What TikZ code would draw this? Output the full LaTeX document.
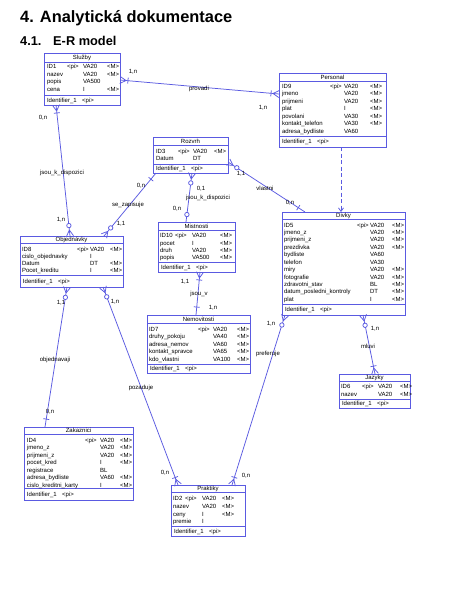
\documentclass[tikz,border=0pt]{standalone}
\usepackage{fontspec}
\setmainfont{Liberation Sans}
\usetikzlibrary{calc,fit,arrows.meta}
\definecolor{pdblue}{RGB}{90,90,225}
\newcounter{tn}
\newcommand\mktx[3]{\if\relax\detokenize{#3}\relax\else\stepcounter{tn}\node[atxt] (t\arabic{tn}) at (#1,#2) {#3};\fi}
\newcommand\mkattr[5]{\mktx{\cA}{#1}{#2}\mktx{\cB}{#1}{#3}\mktx{\cC}{#1}{#4}\mktx{\cD}{#1}{#5}}
\newcommand\mkent[8]{%
 \node[ebox, fit={(#2,#3) (#4,#5)}] (#1) {};
 \draw[eline] (#2,#7) -- (#4,#7);
 \draw[eline] (#2,#8) -- (#4,#8);
 \node[atxt,anchor=base] (#1-title) at ({(#2+#4)/2},{(#3+#7)/2+2}) {#6};
 \node[atxt] (#1-id) at ({#2+3},{(#8+#5)/2+2}) {Identifier\_1\hspace{5.5pt}<pi>};
}
\newcommand\ecrow[2]{\draw[eline] ($(#1)!6pt!(#2)$) -- ($(#1)!3.5pt!90:(#2)$); \draw[eline] ($(#1)!6pt!(#2)$) -- ($(#1)!3.5pt!-90:(#2)$);}
\newcommand\ebar[2]{\draw[eline] ($(#1)!8pt!(#2)!3pt!90:(#2)$) -- ($(#1)!8pt!(#2)!3pt!-90:(#2)$);}
\newcommand\ecircd[3]{\draw[eline,fill=white] ($(#1)!#3!(#2)$) circle[radius=2.2pt];}
\newcommand\ecirc[2]{\ecircd{#1}{#2}{10.5pt}}
\tikzset{
 eline/.style={draw=pdblue, line width=0.75pt},
 ebox/.style={rectangle, draw=pdblue, fill=white, line width=0.75pt, inner sep=0pt, outer sep=0pt},
 atxt/.style={anchor=base west, inner sep=0pt, outer sep=0pt, text=black, font=\fontsize{6}{7}\selectfont},
 lbl/.style={atxt, anchor=base},
}
\begin{document}
\begin{tikzpicture}[x=1pt,y=-1pt]
\fill[white] (0,0) rectangle (469,590);
\useasboundingbox (0,0) rectangle (469,590);

\node[anchor=base west, inner sep=0pt, font=\bfseries\fontsize{16.4}{19}\selectfont] (h1) at (20,22) {4. Analytická dokumentace};
\node[anchor=base west, inner sep=0pt, font=\bfseries\fontsize{12.8}{15}\selectfont] (h2) at (20,45) {4.1.};
\node[anchor=base west, inner sep=0pt, font=\bfseries\fontsize{12.8}{15}\selectfont] (h3) at (53,45) {E-R model};

% Sluzby
\mkent{sluzby}{44}{53}{120}{105}{Služby}{62}{95}
\def\cA{47}\def\cB{67}\def\cC{83}\def\cD{107}
\mkattr{68.7}{ID1}{<pi>}{VA20}{<M>}
\mkattr{76.2}{nazev}{}{VA20}{<M>}
\mkattr{83.7}{popis}{}{VA500}{}
\mkattr{91.2}{cena}{}{I}{<M>}

% Personal
\mkent{personal}{279}{73}{386}{147}{Personal}{81}{136}
\def\cA{282}\def\cB{330}\def\cC{344}\def\cD{370}
\mkattr{88}{ID9}{<pi>}{VA20}{<M>}
\mkattr{95.5}{jmeno}{}{VA20}{<M>}
\mkattr{103}{prijmeni}{}{VA20}{<M>}
\mkattr{110.5}{plat}{}{I}{<M>}
\mkattr{118}{povolani}{}{VA30}{<M>}
\mkattr{125.5}{kontakt\_telefon}{}{VA30}{<M>}
\mkattr{133}{adresa\_bydliste}{}{VA60}{}

% Rozvrh
\mkent{rozvrh}{153}{137}{228}{173}{Rozvrh}{145}{164}
\def\cA{156}\def\cB{178}\def\cC{193}\def\cD{214}
\mkattr{153}{ID3}{<pi>}{VA20}{<M>}
\mkattr{160}{Datum}{}{DT}{}

% Objednavky
\mkent{objednavky}{20}{236}{123}{287}{Objednávky}{243}{275}
\def\cA{22}\def\cB{77}\def\cC{90}\def\cD{110}
\mkattr{251}{ID8}{<pi>}{VA20}{<M>}
\mkattr{258.2}{cislo\_objednavky}{}{I}{}
\mkattr{265.4}{Datum}{}{DT}{<M>}
\mkattr{272.6}{Pocet\_kreditu}{}{I}{<M>}

% Mistnosti
\mkent{mistnosti}{158}{222}{235}{272}{Mistnosti}{230}{262}
\def\cA{160}\def\cB{175}\def\cC{192}\def\cD{220}
\mkattr{237.7}{ID10}{<pi>}{VA20}{<M>}
\mkattr{245}{pocet}{}{I}{<M>}
\mkattr{252.3}{druh}{}{VA20}{<M>}
\mkattr{259.6}{popis}{}{VA500}{<M>}

% Nemovitosti
\mkent{nemovitosti}{147}{315}{250}{373}{Nemovitosti}{323}{364}
\def\cA{149}\def\cB{198}\def\cC{213}\def\cD{237}
\mkattr{331}{ID7}{<pi>}{VA20}{<M>}
\mkattr{338.5}{druhy\_pokoju}{}{VA40}{<M>}
\mkattr{346}{adresa\_nemov}{}{VA60}{<M>}
\mkattr{353.5}{kontakt\_spravce}{}{VA65}{<M>}
\mkattr{361}{kdo\_vlastni}{}{VA100}{<M>}

% Divky
\mkent{divky}{282}{212}{405}{315}{Divky}{219.5}{304}
\def\cA{284}\def\cB{357}\def\cC{370}\def\cD{392}
\mkattr{227}{ID5}{<pi>}{VA20}{<M>}
\mkattr{234.4}{jmeno\_z}{}{VA20}{<M>}
\mkattr{241.9}{prijmeni\_z}{}{VA20}{<M>}
\mkattr{249.3}{prezdivka}{}{VA20}{<M>}
\mkattr{256.7}{bydliste}{}{VA60}{}
\mkattr{264.2}{telefon}{}{VA30}{}
\mkattr{271.6}{miry}{}{VA20}{<M>}
\mkattr{279}{fotografie}{}{VA20}{<M>}
\mkattr{286.4}{zdravotni\_stav}{}{BL}{<M>}
\mkattr{293.9}{datum\_posledni\_kontroly}{}{DT}{<M>}
\mkattr{301.3}{plat}{}{I}{<M>}

% Jazyky
\mkent{jazyky}{339}{374}{410}{408}{Jazyky}{381}{399.5}
\def\cA{341}\def\cB{362}\def\cC{378}\def\cD{400}
\mkattr{388.5}{ID6}{<pi>}{VA20}{<M>}
\mkattr{396}{nazev}{}{VA20}{<M>}

% Zakaznici
\mkent{zakaznici}{24}{427}{133}{500}{Zakaznici}{434}{488.5}
\def\cA{27}\def\cB{85}\def\cC{100}\def\cD{120}
\mkattr{442}{ID4}{<pi>}{VA20}{<M>}
\mkattr{449.5}{jmeno\_z}{}{VA20}{<M>}
\mkattr{457}{prijmeni\_z}{}{VA20}{<M>}
\mkattr{464.5}{pocet\_kred}{}{I}{<M>}
\mkattr{472}{registrace}{}{BL}{}
\mkattr{479.5}{adresa\_bydliste}{}{VA60}{<M>}
\mkattr{487}{cislo\_kreditni\_karty}{}{I}{<M>}

% Praktiky
\mkent{praktiky}{171}{485}{245}{536}{Praktiky}{492}{526}
\def\cA{173}\def\cB{185}\def\cC{202}\def\cD{222}
\mkattr{500.7}{ID2}{<pi>}{VA20}{<M>}
\mkattr{508.3}{nazev}{}{VA20}{<M>}
\mkattr{516}{ceny}{}{I}{<M>}
\mkattr{523.7}{premie}{}{I}{}

% connector end points on the boxes
\coordinate (e1a) at ([yshift=-27pt]sluzby.north east);
\coordinate (e1b) at ([yshift=-21pt]personal.north west);
\coordinate (e2a) at ([xshift=12pt]sluzby.south west);
\coordinate (e2b) at ([xshift=50pt]objednavky.north west);
\coordinate (e3a) at ([xshift=3pt]rozvrh.south west);
\coordinate (e3b) at ([xshift=84pt]objednavky.north west);
\coordinate (e4a) at ([xshift=39pt]rozvrh.south west);
\coordinate (e4b) at ([xshift=28pt]mistnosti.north west);
\coordinate (e5a) at ([yshift=-25pt]rozvrh.north east);
\coordinate (e5b) at ([xshift=23pt]divky.north west);
\coordinate (e6a) at ([xshift=62pt]personal.south west);
\coordinate (e6b) at ([xshift=59pt]divky.north west);
\coordinate (e7a) at ([xshift=42pt]mistnosti.south west);
\coordinate (e7b) at ([xshift=49pt]nemovitosti.north west);
\coordinate (e8a) at ([xshift=47pt]objednavky.south west);
\coordinate (e8b) at ([xshift=21pt]zakaznici.north west);
\coordinate (e9a) at ([xshift=83pt]objednavky.south west);
\coordinate (e9b) at ([xshift=7pt]praktiky.north west);
\coordinate (e10a) at ([xshift=3pt]divky.south west);
\coordinate (e10b) at ([xshift=61pt]praktiky.north west);
\coordinate (e11a) at ([xshift=81pt]divky.south west);
\coordinate (e11b) at ([xshift=36pt]jazyky.north west);

% connectors
\draw[eline] (e1a) -- (e1b);
\draw[eline] (e2a) -- (e2b);
\draw[eline] (e3a) -- (e3b);
\draw[eline] (e4a) -- (e4b);
\draw[eline] (e5a) -- (e5b);
\draw[eline, dash pattern=on 4pt off 2.5pt, -{Straight Barb[length=3.5pt,width=5pt]}] (e6a) -- (e6b);
\draw[eline] (e7a) -- (e7b);
\draw[eline] (e8a) -- (e8b);
\draw[eline] (e9a) -- (e9b);
\draw[eline] (e10a) -- (e10b);
\draw[eline] (e11a) -- (e11b);

% cardinality symbols
\ecrow{e1a}{e1b}\ebar{e1a}{e1b}
\ecrow{e1b}{e1a}\ebar{e1b}{e1a}
\ecrow{e2a}{e2b}\ebar{e2a}{e2b}
\ecrow{e2b}{e2a}\ecirc{e2b}{e2a}
\ebar{e3a}{e3b}
\ecrow{e3b}{e3a}\ecirc{e3b}{e3a}
\ecrow{e4a}{e4b}\ecircd{e4a}{e4b}{10pt}
\ecircd{e4b}{e4a}{7.5pt}
\ecrow{e5a}{e5b}\ecirc{e5a}{e5b}
\ebar{e5b}{e5a}
\ecrow{e7a}{e7b}\ebar{e7a}{e7b}
\ebar{e7b}{e7a}
\ecrow{e8a}{e8b}\ecirc{e8a}{e8b}
\ebar{e8b}{e8a}
\ecrow{e9a}{e9b}\ecirc{e9a}{e9b}
\ecrow{e9b}{e9a}\ebar{e9b}{e9a}
\ecrow{e10a}{e10b}\ecirc{e10a}{e10b}
\ecrow{e10b}{e10a}\ebar{e10b}{e10a}
\ecrow{e11a}{e11b}\ecirc{e11a}{e11b}
\ecrow{e11b}{e11a}\ebar{e11b}{e11a}

% labels
\node[lbl] (l1) at (133,73) {1,n};
\node[lbl] (l2) at (199,90) {provadi};
\node[lbl] (l3) at (263,109) {1,n};
\node[lbl] (l4) at (43,119) {0,n};
\node[lbl] (l5) at (62,174) {jsou\_k\_dispozici};
\node[lbl] (l6) at (61,221) {1,n};
\node[lbl] (l7) at (141,187) {0,n};
\node[lbl] (l8) at (128,206) {se\_zapisuje};
\node[lbl] (l9) at (121,225) {1,1};
\node[lbl] (l10) at (201,190) {0,1};
\node[lbl] (l11) at (208,199) {jsou\_k\_dispozici};
\node[lbl] (l12) at (177,210) {0,n};
\node[lbl] (l13) at (241,175) {1,1};
\node[lbl] (l14) at (265,190) {vlastni};
\node[lbl] (l15) at (290,204) {0,n};
\node[lbl] (l16) at (185,283) {1,1};
\node[lbl] (l17) at (199,295) {jsou\_v};
\node[lbl] (l18) at (213,309) {1,n};
\node[lbl] (l19) at (271,325) {1,n};
\node[lbl] (l20) at (268,355) {preferuje};
\node[lbl] (l21) at (246,477) {0,n};
\node[lbl] (l22) at (375,330) {1,n};
\node[lbl] (l23) at (368,348) {mluvi};
\node[lbl] (l24) at (61,304) {1,1};
\node[lbl] (l25) at (55,361) {objednavaji};
\node[lbl] (l26) at (50,413) {0,n};
\node[lbl] (l27) at (115,303) {1,n};
\node[lbl] (l28) at (141,389) {pozaduje};
\node[lbl] (l29) at (165,474) {0,n};
\end{tikzpicture}
\end{document}
